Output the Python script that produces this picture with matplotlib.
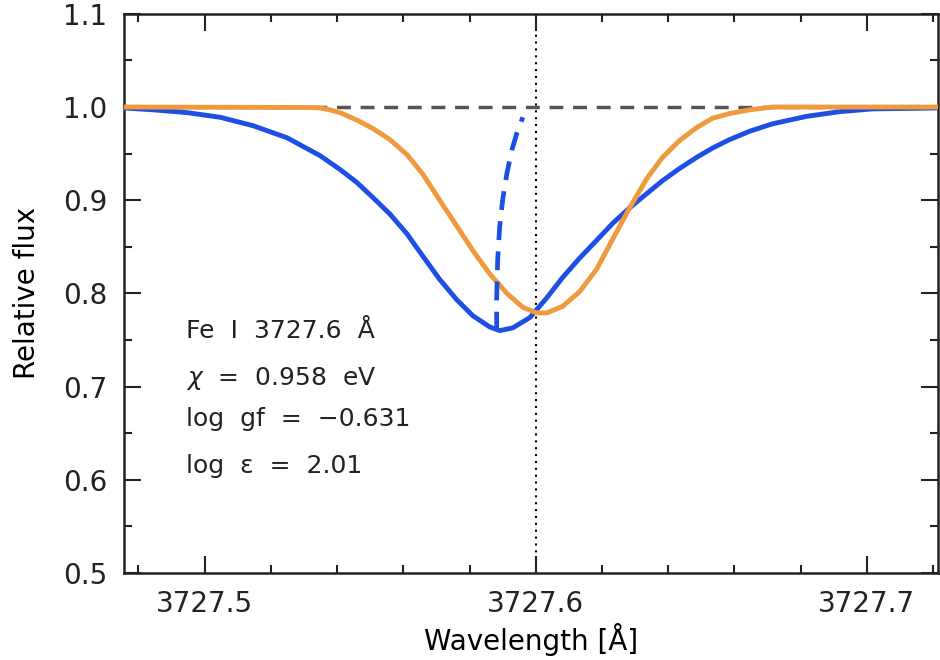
import matplotlib.pyplot as plt
from matplotlib.ticker import MultipleLocator, FormatStrFormatter

# Fe I 3727.6 line: blue = observed-like profile, orange = synthetic profile
wl_blue = [3727.4757, 3727.4845, 3727.4947, 3727.5047, 3727.5146, 3727.5249,
           3727.5348, 3727.5409, 3727.5460, 3727.5508, 3727.5560, 3727.5611,
           3727.5659, 3727.5710, 3727.5762, 3727.5810, 3727.5861, 3727.5891,
           3727.5931, 3727.5982, 3727.6033, 3727.6081, 3727.6133, 3727.6184,
           3727.6232, 3727.6284, 3727.6335, 3727.6383, 3727.6434, 3727.6486,
           3727.6534, 3727.6585, 3727.6646, 3727.6715, 3727.6818, 3727.6917,
           3727.7017, 3727.7213]
flux_blue = [0.999, 0.997, 0.994, 0.989, 0.980, 0.967,
             0.948, 0.933, 0.919, 0.903, 0.885, 0.864,
             0.840, 0.815, 0.793, 0.776, 0.764, 0.760,
             0.763, 0.774, 0.795, 0.817, 0.838, 0.857,
             0.875, 0.892, 0.907, 0.921, 0.934, 0.946,
             0.956, 0.965, 0.974, 0.982, 0.990, 0.995,
             0.998, 0.999]

wl_orange = [3727.4757, 3727.5318, 3727.5348, 3727.5378, 3727.5409, 3727.5460,
             3727.5508, 3727.5560, 3727.5611, 3727.5659, 3727.5710, 3727.5762,
             3727.5810, 3727.5861, 3727.5913, 3727.5961, 3727.6003, 3727.6033,
             3727.6081, 3727.6133, 3727.6184, 3727.6232, 3727.6284, 3727.6335,
             3727.6383, 3727.6434, 3727.6486, 3727.6534, 3727.6585, 3727.6646,
             3727.6715, 3727.7213]
flux_orange = [1.000, 0.9995, 0.999, 0.997, 0.994, 0.986,
               0.977, 0.965, 0.949, 0.928, 0.900, 0.872,
               0.846, 0.821, 0.800, 0.785, 0.779, 0.779,
               0.786, 0.802, 0.826, 0.858, 0.892, 0.923,
               0.946, 0.964, 0.978, 0.988, 0.993, 0.997,
               1.000, 1.000]

# bisector of the blue profile
wl_bis = [3727.5882, 3727.5882, 3727.5885, 3727.5891, 3727.5900,
          3727.5913, 3727.5928, 3727.5943, 3727.5961]
flux_bis = [0.760, 0.793, 0.836, 0.871, 0.900,
            0.929, 0.954, 0.972, 0.989]

line_center = 3727.6
continuum = 1.0

labels = ['Fe  I  3727.6  Å',
          r'$\chi$  =  0.958  eV',
          'log  gf  =  \u22120.631',
          'log  \u03b5  =  2.01']
label_y = [0.760, 0.709, 0.665, 0.615]

blue = '#1d4fe4'
orange = '#ef9a3d'

plt.rcParams['font.family'] = ['DejaVu Sans']

fig = plt.figure(figsize=(9.4, 6.6), dpi=100)
ax = fig.add_axes([0.132, 0.132, 0.866, 0.847])

ax.axhline(continuum, color='#555555', lw=2.5, dashes=(4, 2.8), zorder=1)
ax.axvline(line_center, color='black', lw=1.5, ls=(0, (1, 2.3)), zorder=1)
ax.plot(wl_blue, flux_blue, color=blue, lw=3.5, zorder=3,
        solid_joinstyle='round')
ax.plot(wl_orange, flux_orange, color=orange, lw=3.5, zorder=3,
        solid_joinstyle='round')
ax.plot(wl_bis, flux_bis, color=blue, lw=3.4, dashes=(4, 2.4), zorder=3)

for y, s in zip(label_y, labels):
    ax.text(3727.4944, y, s, fontsize=18, va='center', ha='left', color='#222222')

ax.set_xlim(3727.4757, 3727.7215)
ax.set_ylim(0.5, 1.1)
ax.xaxis.set_major_locator(MultipleLocator(0.1))
ax.xaxis.set_minor_locator(MultipleLocator(0.02))
ax.yaxis.set_major_locator(MultipleLocator(0.1))
ax.yaxis.set_minor_locator(MultipleLocator(0.05))
ax.xaxis.set_major_formatter(FormatStrFormatter('%.1f'))
ax.yaxis.set_major_formatter(FormatStrFormatter('%.1f'))

ax.tick_params(which='both', direction='in', top=True, right=True,
               width=1.5, labelsize=20, colors='#222222')
ax.tick_params(which='major', length=12, pad=12)
ax.tick_params(which='minor', length=6)
for sp in ax.spines.values():
    sp.set_linewidth(1.8)
    sp.set_color('#222222')

ax.set_xlabel('Wavelength [Å]', fontsize=20, labelpad=4)
ax.set_ylabel('Relative flux', fontsize=20, labelpad=16)

fig.savefig('out.png', dpi=100)
